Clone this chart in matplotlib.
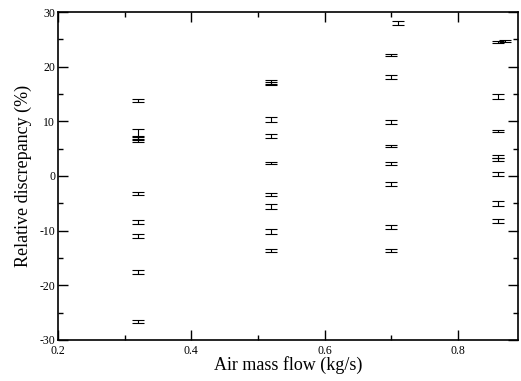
import matplotlib
matplotlib.use("Agg")
import matplotlib.pyplot as plt
from matplotlib.ticker import MultipleLocator

plt.rcParams['font.family'] = ['Liberation Serif', 'DejaVu Serif']
plt.rcParams['axes.unicode_minus'] = False

# Air mass flow (kg/s), relative discrepancy (%) and its uncertainty
flow = [0.32, 0.32, 0.32, 0.32, 0.32, 0.32, 0.32, 0.32, 0.32,
        0.52, 0.52, 0.52, 0.52, 0.52, 0.52, 0.52, 0.52, 0.52,
        0.71, 0.70, 0.70, 0.70, 0.70, 0.70, 0.70, 0.70, 0.70,
        0.86, 0.87, 0.86, 0.86, 0.86, 0.86, 0.86, 0.86, 0.86]
discrepancy = [13.8, 7.4, 7.0, -3.2, -8.4, -11.0, -17.6, -26.6, 6.8,
               17.2, 16.9, 10.3, 7.3, 2.4, -3.4, -5.6, -10.2, -13.6,
               28.0, 22.1, 18.1, 9.9, 5.5, 2.3, -1.5, -9.3, -13.7,
               24.5, 24.7, 14.6, 8.2, 3.5, 3.0, 0.4, -5.0, -8.2]
uncertainty = [0.35, 1.2, 0.3, 0.25, 0.35, 0.35, 0.4, 0.25, 0.3,
               0.3, 0.3, 0.45, 0.35, 0.15, 0.3, 0.45, 0.45, 0.3,
               0.3, 0.2, 0.4, 0.4, 0.15, 0.3, 0.4, 0.4, 0.3,
               0.15, 0.25, 0.45, 0.25, 0.3, 0.3, 0.4, 0.45, 0.35]

fig = plt.figure(figsize=(5.21, 3.81), dpi=100)
ax = fig.add_axes([0.111, 0.108, 0.883, 0.8605])

ax.errorbar(flow, discrepancy, yerr=uncertainty, fmt='none',
            ecolor='black', elinewidth=0.8, capsize=4.0, capthick=0.8)

ax.set_xlim(0.2, 0.89)
ax.set_ylim(-30, 30)
ax.xaxis.set_major_locator(MultipleLocator(0.2))
ax.xaxis.set_minor_locator(MultipleLocator(0.1))
ax.yaxis.set_major_locator(MultipleLocator(10))
ax.yaxis.set_minor_locator(MultipleLocator(5))
ax.set_xticks([0.2, 0.4, 0.6, 0.8])
ax.set_xticklabels(['0.2', '0.4', '0.6', '0.8'])

ax.tick_params(which='both', direction='in', top=True, right=True,
               labelsize=8.5, width=1.0)
ax.tick_params(axis='x', pad=4)
ax.tick_params(axis='y', pad=2)
ax.tick_params(which='major', length=7)
ax.tick_params(which='minor', length=3.5)
for s in ax.spines.values():
    s.set_linewidth(1.2)

ax.set_xlabel('Air mass flow (kg/s)', fontsize=13, labelpad=-1)
ax.set_ylabel('Relative discrepancy (%)', fontsize=13, labelpad=5)

fig.savefig('out.png', dpi=100)
